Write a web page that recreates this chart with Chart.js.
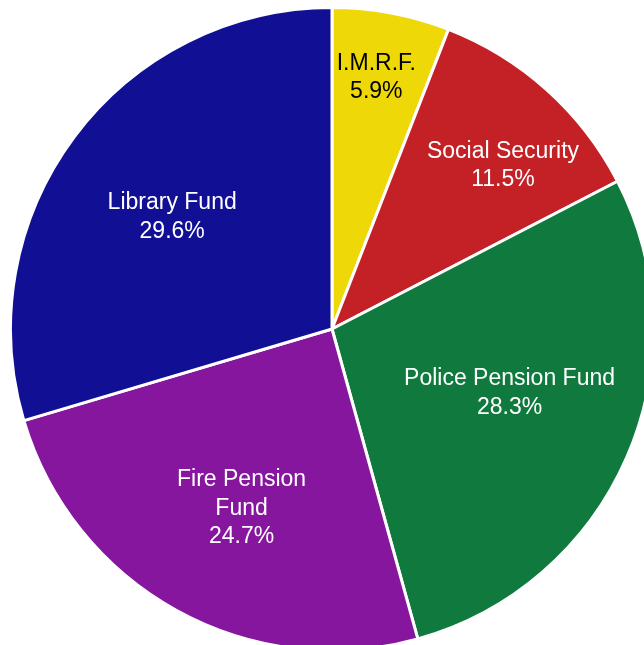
<!DOCTYPE html>
<html>
<head>
<meta charset="utf-8">
<script src="https://cdn.jsdelivr.net/npm/chart.js@4"></script>
<style>
  html, body { margin: 0; padding: 0; background: #fff; overflow: hidden; width: 644px; height: 645px; }
  #wrap { position: absolute; left: 9px; top: 6px; width: 646px; height: 646px; }
</style>
</head>
<body>
<div id="wrap"><canvas id="pie"></canvas></div>
<script>
const labels = [["I.M.R.F."], ["Social Security"], ["Police Pension Fund"], ["Fire Pension", "Fund"], ["Library Fund"]];
const values = [5.9, 11.5, 28.3, 24.7, 29.6];
const colors = ["#eed808", "#c42127", "#107a3e", "#86169e", "#110f94"];
const textColors = ["#000000", "#ffffff", "#ffffff", "#ffffff", "#ffffff"];

// where each label sits: fraction of the radius, and a nudge (degrees) off the slice middle
const labelRadius = [0.80, 0.74, 0.585, 0.62, 0.61];
const labelTurn = [-0.7, 4, -4.3, -2, -1.3];

const sliceLabels = {
  id: "sliceLabels",
  afterDatasetsDraw(chart) {
    const ctx = chart.ctx;
    const meta = chart.getDatasetMeta(0);
    ctx.save();
    ctx.font = "23px 'Liberation Sans', Arial, sans-serif";
    ctx.textAlign = "center";
    ctx.textBaseline = "middle";
    meta.data.forEach((arc, i) => {
      const p = arc.getProps(["x", "y", "startAngle", "endAngle", "outerRadius"], true);
      const mid = (p.startAngle + p.endAngle) / 2 + labelTurn[i] * Math.PI / 180;
      const r = p.outerRadius * labelRadius[i];
      const cx = p.x + Math.cos(mid) * r;
      const cy = p.y + Math.sin(mid) * r + 2;
      const lines = [...labels[i], values[i].toFixed(1) + "%"];
      const lh = 28.5;
      ctx.fillStyle = textColors[i];
      lines.forEach((t, k) => {
        ctx.fillText(t, cx, cy + (k - (lines.length - 1) / 2) * lh);
      });
    });
    ctx.restore();
  }
};

new Chart(document.getElementById("pie"), {
  type: "pie",
  data: {
    labels: labels.map((l) => l.join(" ")),
    datasets: [{
      data: values,
      backgroundColor: colors,
      borderColor: "#ffffff",
      borderWidth: 3
    }]
  },
  options: {
    responsive: true,
    maintainAspectRatio: false,
    animation: false,
    layout: { padding: 0 },
    plugins: { legend: { display: false }, tooltip: { enabled: false } }
  },
  plugins: [sliceLabels]
});
</script>
</body>
</html>
